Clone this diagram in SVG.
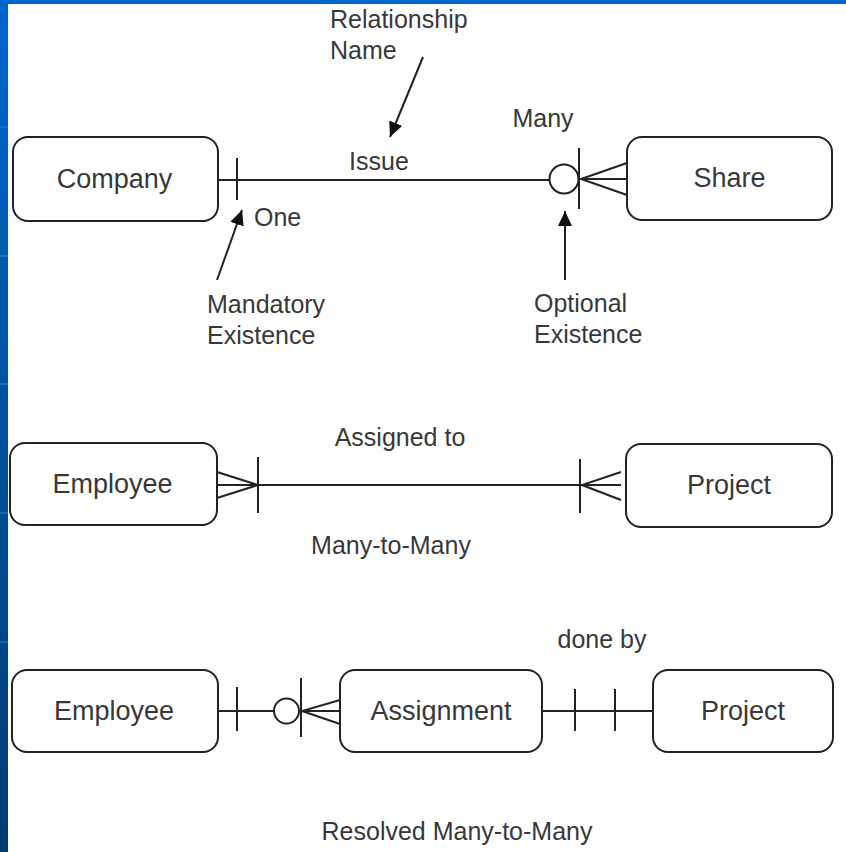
<svg xmlns="http://www.w3.org/2000/svg" width="846" height="852" viewBox="0 0 846 852">
  <defs>
    <linearGradient id="edge" x1="0" y1="0" x2="0" y2="1">
      <stop offset="0" stop-color="#0068cc"/>
      <stop offset="1" stop-color="#003a72"/>
    </linearGradient>
    <marker id="head" markerUnits="userSpaceOnUse" markerWidth="16" markerHeight="14" refX="15" refY="7" orient="auto">
      <path d="M0,0 L15,7 L0,14 z" fill="#111"/>
    </marker>
  </defs>
  <style>
    .box { fill: #ffffff; stroke: #222222; stroke-width: 2; }
    .name { font-family: "Liberation Sans", Arial, sans-serif; font-size: 27px; fill: #383838; text-anchor: middle; }
    .lbl { font-family: "Liberation Sans", Arial, sans-serif; font-size: 25px; fill: #383838; }
    .mid { text-anchor: middle; }
    .ln { stroke: #222222; stroke-width: 2; fill: none; }
    .pointer { stroke: #222222; stroke-width: 2; fill: none; marker-end: url(#head); }
  </style>

  <!-- slide frame -->
  <rect x="0" y="0" width="846" height="852" fill="#ffffff"/>
  <rect x="0" y="0" width="846" height="4" fill="#0068cc"/>
  <rect x="0" y="0" width="8" height="852" fill="url(#edge)"/>
  <g stroke="#3f86d6" stroke-width="1.5" opacity="0.6">
    <line x1="0" y1="127" x2="8" y2="127"/>
    <line x1="0" y1="256" x2="8" y2="256"/>
    <line x1="0" y1="384" x2="8" y2="384"/>
    <line x1="0" y1="513" x2="8" y2="513"/>
    <line x1="0" y1="642" x2="8" y2="642"/>
  </g>

  <!-- connectors -->
  <g id="connectors">
    <!-- Company to Share -->
    <line class="ln" x1="218" y1="180" x2="549.5" y2="180"/>
    <line class="ln" x1="237" y1="158" x2="237" y2="200"/>
    <circle class="ln" cx="564" cy="179" r="14.5"/>
    <line class="ln" x1="579" y1="148" x2="579" y2="209"/>
    <path class="ln" d="M627,163 L581,179 L627,195 M581,179 L627,179"/>

    <!-- Employee to Project (many-to-many) -->
    <line class="ln" x1="217" y1="485" x2="582" y2="485"/>
    <path class="ln" d="M217,472 L258,485 L217,498"/>
    <line class="ln" x1="258" y1="457" x2="258" y2="513"/>
    <line class="ln" x1="580" y1="459" x2="580" y2="513"/>
    <path class="ln" d="M621,472 L582,485 L621,500 M582,485 L621,485"/>

    <!-- Employee to Assignment -->
    <line class="ln" x1="218" y1="711" x2="274" y2="711"/>
    <line class="ln" x1="237" y1="687" x2="237" y2="731"/>
    <circle class="ln" cx="286.5" cy="711" r="12.5"/>
    <line class="ln" x1="301" y1="678" x2="301" y2="737"/>
    <path class="ln" d="M340,700 L302,711 L340,724 M302,711 L340,711"/>

    <!-- Assignment to Project -->
    <line class="ln" x1="542" y1="711" x2="653" y2="711"/>
    <line class="ln" x1="575" y1="689" x2="575" y2="731"/>
    <line class="ln" x1="615" y1="689" x2="615" y2="731"/>

    <!-- annotation pointers -->
    <line class="pointer" x1="423" y1="57" x2="390" y2="137"/>
    <line class="pointer" x1="217" y1="280" x2="242" y2="210"/>
    <line class="pointer" x1="565" y1="280" x2="565" y2="211"/>
  </g>

  <!-- entities -->
  <g id="company">
    <rect class="box" x="13" y="137" width="205" height="84" rx="15"/>
    <text class="name" x="114.5" y="188">Company</text>
  </g>
  <g id="share">
    <rect class="box" x="627" y="137" width="205" height="83" rx="15"/>
    <text class="name" x="729.5" y="187">Share</text>
  </g>
  <g id="employee-1">
    <rect class="box" x="10" y="443" width="207" height="82" rx="15"/>
    <text class="name" x="112.5" y="493">Employee</text>
  </g>
  <g id="project-1">
    <rect class="box" x="626" y="444" width="206" height="83" rx="15"/>
    <text class="name" x="729" y="494">Project</text>
  </g>
  <g id="employee-2">
    <rect class="box" x="12" y="670" width="206" height="82" rx="15"/>
    <text class="name" x="114" y="720">Employee</text>
  </g>
  <g id="assignment">
    <rect class="box" x="340" y="670" width="202" height="82" rx="15"/>
    <text class="name" x="441" y="720">Assignment</text>
  </g>
  <g id="project-2">
    <rect class="box" x="653" y="670" width="180" height="82" rx="15"/>
    <text class="name" x="743" y="720">Project</text>
  </g>

  <!-- labels -->
  <g id="labels">
    <text class="lbl" x="330" y="28">Relationship</text>
    <text class="lbl" x="330" y="59">Name</text>
    <text class="lbl mid" x="379" y="170">Issue</text>
    <text class="lbl mid" x="543" y="127">Many</text>
    <text class="lbl" x="254" y="226">One</text>
    <text class="lbl" x="207" y="313">Mandatory</text>
    <text class="lbl" x="207" y="344">Existence</text>
    <text class="lbl" x="534" y="312">Optional</text>
    <text class="lbl" x="534" y="343">Existence</text>
    <text class="lbl mid" x="400" y="446">Assigned to</text>
    <text class="lbl mid" x="391" y="554">Many-to-Many</text>
    <text class="lbl mid" x="602" y="648">done by</text>
    <text class="lbl mid" x="457" y="840">Resolved Many-to-Many</text>
  </g>
</svg>
